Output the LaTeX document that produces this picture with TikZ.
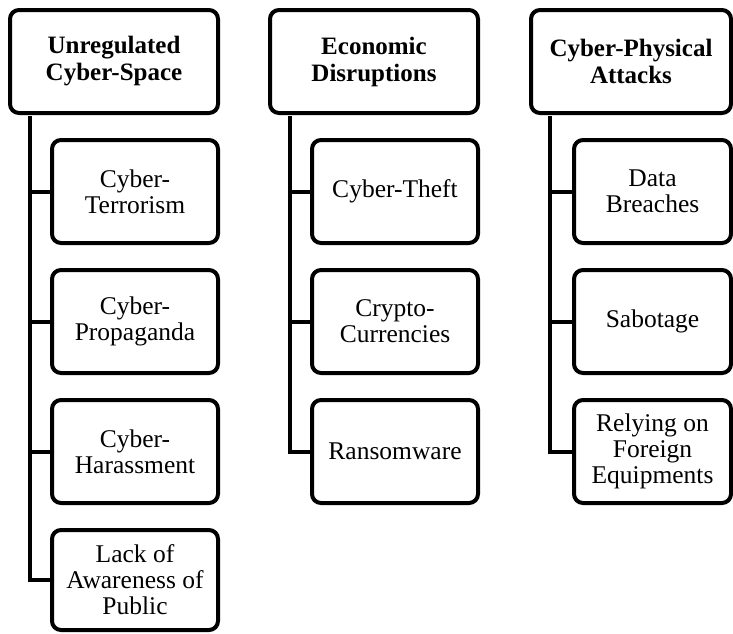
\documentclass[tikz,border=0pt]{standalone}
\usepackage{fontspec}
\setmainfont{Liberation Serif}
\begin{document}
\begin{tikzpicture}[x=1pt,y=-1pt,
  box/.style={draw=black,line width=4pt,rounded corners=9pt,fill=white,align=center,inner sep=2pt,
    font=\fontsize{25.5}{26}\selectfont},
  title/.style={box,minimum width=208pt,minimum height=103pt,font=\fontsize{25}{27}\selectfont\bfseries},
  child/.style={box,minimum width=166pt,minimum height=103pt},
  conn/.style={line width=4pt,line join=miter}]
\useasboundingbox (0,0) rectangle (733,633);
% column 1
\node[title] (t1) at (114,61.5) {Unregulated\\Cyber-Space};
\node[child] (c11) at (135,191.5) {Cyber-\\Terrorism};
\node[child] (c12) at (135,321.5) {Cyber-\\Propaganda};
\node[child] (c13) at (135,451.5) {Cyber-\\Harassment};
\node[child,minimum height=100pt] (c14) at (135,580) {Lack of\\Awareness of\\Public};
% column 2
\node[title] (t2) at (374,61.5) {Economic\\Disruptions};
\node[child] (c21) at (395,191.5) {Cyber-Theft};
\node[child] (c22) at (395,321.5) {Crypto-\\Currencies};
\node[child] (c23) at (395,451.5) {Ransomware};
% column 3
\node[title,minimum width=200pt] (t3) at (631,61.5) {Cyber-Physical\\Attacks};
\node[child,minimum width=157pt] (c31) at (652.5,191.5) {Data\\Breaches};
\node[child,minimum width=157pt] (c32) at (652.5,321.5) {Sabotage};
\node[child,minimum width=157pt] (c33) at (652.5,451.5) {Relying on\\Foreign\\Equipments};
% connectors
\foreach \c in {c11,c12,c13,c14}
  \draw[conn] ([xshift=22pt,yshift=-1pt]t1.south west) |- (\c.west);
\foreach \c in {c21,c22,c23}
  \draw[conn] ([xshift=22pt,yshift=-1pt]t2.south west) |- (\c.west);
\foreach \c in {c31,c32,c33}
  \draw[conn] ([xshift=21pt,yshift=-1pt]t3.south west) |- (\c.west);
\end{tikzpicture}
\end{document}
